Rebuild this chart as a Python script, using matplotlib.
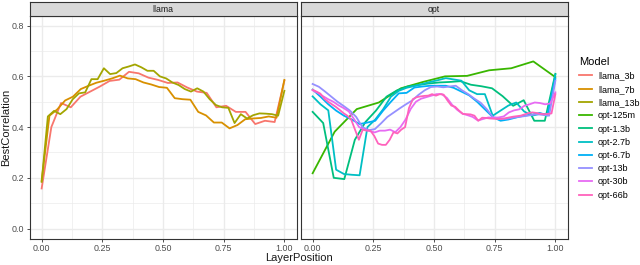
import numpy as np
import matplotlib
matplotlib.use("Agg")
import matplotlib.pyplot as plt

plt.rcParams["font.family"] = ["Liberation Sans", "DejaVu Sans"]

# --- data: best correlation per normalised layer position -------------------
llama_3b = [0.158, 0.40, 0.495, 0.478, 0.52, 0.54, 0.56, 0.582, 0.587, 0.618,
            0.612, 0.595, 0.586, 0.574, 0.576, 0.556, 0.54, 0.535, 0.478, 0.484,
            0.46, 0.46, 0.412, 0.425, 0.42, 0.583]
llama_7b = [0.188, 0.445, 0.47, 0.505, 0.52, 0.55, 0.563, 0.575, 0.583, 0.592,
            0.603, 0.592, 0.589, 0.576, 0.568, 0.558, 0.555, 0.514, 0.51, 0.508,
            0.46, 0.446, 0.418, 0.418, 0.395, 0.408, 0.431, 0.434, 0.436, 0.442,
            0.437, 0.586]
llama_13b = [0.184, 0.442, 0.464, 0.451, 0.471, 0.51, 0.533, 0.537, 0.589, 0.589,
             0.632, 0.609, 0.613, 0.632, 0.639, 0.647, 0.636, 0.622, 0.622, 0.60,
             0.592, 0.576, 0.566, 0.55, 0.54, 0.553, 0.54, 0.51, 0.487, 0.478,
             0.476, 0.416, 0.451, 0.434, 0.447, 0.454, 0.453, 0.451, 0.445, 0.543]
opt_125m = [0.218, 0.382, 0.471, 0.497, 0.553, 0.578, 0.600, 0.602, 0.624, 0.632,
            0.659, 0.597]
opt_1_3b = [0.46, 0.416, 0.20, 0.195, 0.35, 0.42, 0.465, 0.52, 0.545, 0.56,
            0.566, 0.572, 0.576, 0.578, 0.581, 0.567, 0.561, 0.553, 0.522, 0.484,
            0.506, 0.425, 0.425, 0.61]
opt_2_7b = [0.521, 0.49, 0.466, 0.232, 0.215, 0.212, 0.21, 0.40, 0.43, 0.47,
            0.52, 0.543, 0.555, 0.562, 0.57, 0.578, 0.585, 0.593, 0.588, 0.583,
            0.545, 0.53, 0.53, 0.445, 0.465, 0.485, 0.497, 0.462, 0.445, 0.452,
            0.451, 0.607]
opt_6_7b = [0.548, 0.52, 0.49, 0.465, 0.445, 0.43, 0.412, 0.418, 0.425, 0.465,
            0.50, 0.533, 0.535, 0.556, 0.56, 0.563, 0.563, 0.563, 0.555, 0.54,
            0.525, 0.50, 0.47, 0.44, 0.425, 0.43, 0.438, 0.445, 0.449, 0.456,
            0.446, 0.59]
opt_13b = [0.570, 0.559, 0.54, 0.52, 0.50, 0.483, 0.465, 0.44, 0.40, 0.388,
           0.392, 0.415, 0.44, 0.457, 0.474, 0.49, 0.505, 0.527, 0.545, 0.558,
           0.56, 0.557, 0.56, 0.563, 0.545, 0.53, 0.512, 0.496, 0.47, 0.438,
           0.434, 0.432, 0.436, 0.44, 0.443, 0.447, 0.451, 0.448, 0.445, 0.583]
opt_30b = [0.545, 0.535, 0.522, 0.51, 0.50, 0.486, 0.475, 0.462, 0.432, 0.40,
           0.39, 0.385, 0.379, 0.386, 0.386, 0.39, 0.38, 0.40, 0.43, 0.472,
           0.50, 0.512, 0.518, 0.524, 0.53, 0.53, 0.515, 0.488, 0.468, 0.453,
           0.447, 0.44, 0.426, 0.432, 0.438, 0.437, 0.438, 0.442, 0.458, 0.466,
           0.47, 0.484, 0.49, 0.497, 0.495, 0.49, 0.493, 0.537]
opt_66b = [0.547, 0.540, 0.532, 0.512, 0.50, 0.49, 0.48, 0.468, 0.455, 0.445,
           0.43, 0.39, 0.35, 0.39, 0.386, 0.386, 0.365, 0.335, 0.33, 0.33,
           0.35, 0.38, 0.375, 0.39, 0.40, 0.475, 0.51, 0.518, 0.521, 0.523,
           0.524, 0.53, 0.524, 0.53, 0.528, 0.505, 0.485, 0.48, 0.465, 0.452,
           0.451, 0.45, 0.445, 0.425, 0.437, 0.436, 0.434, 0.433, 0.432, 0.432,
           0.435, 0.438, 0.441, 0.443, 0.445, 0.45, 0.455, 0.458, 0.456, 0.453,
           0.451, 0.452, 0.454, 0.53]

models = ["llama_3b", "llama_7b", "llama_13b", "opt-125m", "opt-1.3b",
          "opt-2.7b", "opt-6.7b", "opt-13b", "opt-30b", "opt-66b"]
series = [llama_3b, llama_7b, llama_13b, opt_125m, opt_1_3b,
          opt_2_7b, opt_6_7b, opt_13b, opt_30b, opt_66b]
family = ["llama"] * 3 + ["opt"] * 7
colors = ["#F8766D", "#D89000", "#A3A500", "#39B600", "#00BF7D",
          "#00BFC4", "#00B0F6", "#9590FF", "#E76BF3", "#FF62BC"]

W, H = 640, 265
fig = plt.figure(figsize=(6.4, 2.65), dpi=100)

panels = {"llama": 29.5, "opt": 300.5}
pw = 267
top, bottom = 15.5, 238.7
axes = {}
for name, x0 in panels.items():
    ax = fig.add_axes([x0 / W, 1 - bottom / H, pw / W, (bottom - top) / H])
    ax.set_xlim(-0.05, 1.05)
    ax.set_ylim(-0.04, 0.84)
    ax.set_xticks([0, 0.25, 0.5, 0.75, 1.0])
    ax.set_xticklabels(["0.00", "0.25", "0.50", "0.75", "1.00"])
    ax.set_xticks([0.125, 0.375, 0.625, 0.875], minor=True)
    ax.set_yticks([0, 0.2, 0.4, 0.6, 0.8])
    ax.set_yticks([0.1, 0.3, 0.5, 0.7], minor=True)
    ax.grid(True, which="major", color="#EBEBEB", lw=1.0)
    ax.grid(True, which="minor", color="#EBEBEB", lw=0.5)
    ax.set_axisbelow(True)
    ax.tick_params(which="minor", length=0)
    ax.tick_params(which="major", length=2.2, width=0.6, color="#333333",
                   labelsize=6.4, labelcolor="#4D4D4D", pad=1.6)
    for s in ax.spines.values():
        s.set_color("#333333")
        s.set_linewidth(0.8)
    if name == "llama":
        ax.set_yticklabels(["0.0", "0.2", "0.4", "0.6", "0.8"])
    else:
        ax.tick_params(axis="y", labelleft=False, length=0)
    axes[name] = ax

    st = fig.add_axes([x0 / W, 1 - top / H, pw / W, 13.5 / H])
    st.set_facecolor("#D9D9D9")
    st.set_xticks([]); st.set_yticks([])
    for s in st.spines.values():
        s.set_color("#333333")
        s.set_linewidth(0.8)
    st.text(0.5, 0.45, name, ha="center", va="center", fontsize=6.3,
            color="#1A1A1A", transform=st.transAxes)

handles = []
for m, ys, fam, c in zip(models, series, family, colors):
    xs = np.linspace(0, 1, len(ys))
    ln, = axes[fam].plot(xs, ys, color=c, lw=1.3, label=m)
    handles.append(ln)

fig.text(0.5 * (29.5 + 567.5) / W, 1 - 258 / H, "LayerPosition", ha="center",
         va="center", fontsize=8, color="#1A1A1A")
fig.text(6.5 / W, 1 - 127 / H, "BestCorrelation", ha="center", va="center",
         rotation=90, fontsize=8, color="#1A1A1A")

leg = fig.legend(handles, models, title="Model", loc="center left",
                 bbox_to_anchor=(579 / W, 0.515), frameon=False, fontsize=6.5,
                 title_fontsize=8, handlelength=1.4, handletextpad=0.7,
                 labelspacing=0.47, borderaxespad=0, borderpad=0)
leg._legend_box.align = "left"

fig.savefig("out.png", dpi=100)
